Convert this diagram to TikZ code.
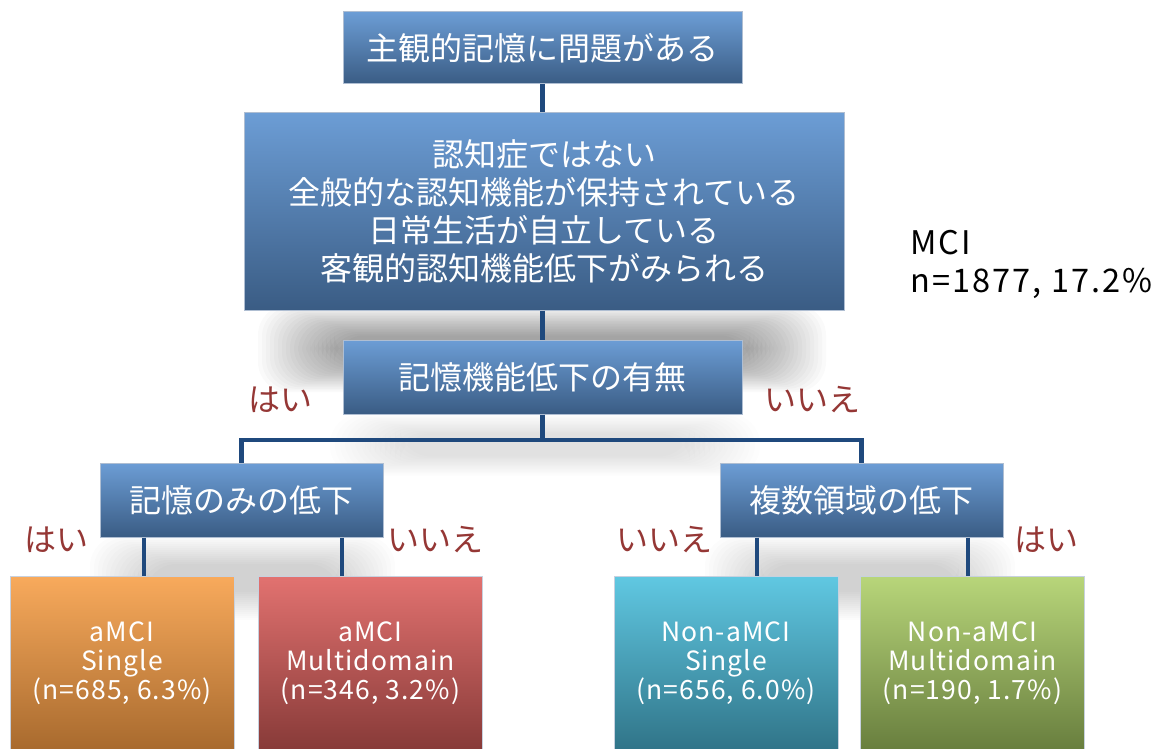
\documentclass[tikz,border=0pt]{standalone}
\usepackage{fontspec}
\setmainfont{Noto Sans CJK JP}
\newfontfamily\widefont[LetterSpace=4]{Noto Sans CJK JP}
\newfontfamily\mcifont[LetterSpace=6.5]{Noto Sans CJK JP}
\usetikzlibrary{positioning,calc}
\definecolor{bluetop}{RGB}{108,157,213}
\definecolor{bluebot}{RGB}{58,92,132}
\definecolor{boxedge}{RGB}{175,190,210}
\definecolor{connc}{RGB}{31,73,125}
\definecolor{labc}{RGB}{149,55,53}
\definecolor{ortop}{RGB}{248,170,92}
\definecolor{orbot}{RGB}{168,106,46}
\definecolor{rdtop}{RGB}{226,114,112}
\definecolor{rdbot}{RGB}{135,58,56}
\definecolor{cytop}{RGB}{96,200,226}
\definecolor{cybot}{RGB}{48,116,136}
\definecolor{grtop}{RGB}{184,214,122}
\definecolor{grbot}{RGB}{104,126,62}
\tikzset{
  bluebox/.style={draw=boxedge, line width=1pt, top color=bluetop, bottom color=bluebot,
    text=white, align=center, inner sep=0pt, font=\fontsize{32}{38}\selectfont},
  leafbox/.style={draw=boxedge!70!white, line width=1pt, text=white, align=center, inner sep=0pt,
    font=\widefont\fontsize{26.5}{29}\selectfont, minimum width=224, minimum height=174},
  conn/.style={draw=connc, line width=4.5pt},
  lab/.style={text=labc, font=\fontsize{32}{36}\selectfont, inner sep=0pt},
}
\newcommand{\softshadow}[8]{% x1 y1 x2 y2 dx dy n opacity
  \foreach \k in {0,...,#7}{
    \fill[black, opacity=#8, rounded corners=30pt]
      ({#1+\k*#5},{#2+\k*#6}) rectangle ({#3-\k*#5},{#4-\k*#6});
  }
}
\begin{document}
\begin{tikzpicture}[x=1pt,y=-1pt]
\useasboundingbox (0,0) rectangle (1167,749);
\fill[white] (0,0) rectangle (1167,749);
% soft shadows
\softshadow{258}{305}{826}{392}{4}{1.6}{19}{0.02}
\softshadow{330}{414}{760}{476}{5}{1.4}{14}{0.009}
\softshadow{90}{536}{395}{620}{4}{2}{14}{0.01}
\softshadow{705}{536}{1015}{620}{4}{2}{14}{0.01}
% boxes
\node[bluebox, minimum width=399, minimum height=72] (top) at (542.5,48) {主観的記憶に問題がある};
\node[bluebox, minimum width=600, minimum height=197] (big) at (544,211.5)
  {認知症ではない\\全般的な認知機能が保持されている\\日常生活が自立している\\客観的認知機能低下がみられる};
\node[bluebox, minimum width=399, minimum height=74] (mid) at (542.5,377) {記憶機能低下の有無};
\node[bluebox, minimum width=283, minimum height=74] (memonly) at (241.5,500) {記憶のみの低下};
\node[bluebox, minimum width=283, minimum height=74] (multi) at (861.5,500) {複数領域の低下};
\node[leafbox, top color=ortop, bottom color=orbot] (a1) at (122,663) {aMCI\\Single\\(n=685, 6.3\%)};
\node[leafbox, top color=rdtop, bottom color=rdbot] (a2) at (370.5,663) {aMCI\\Multidomain\\(n=346, 3.2\%)};
\node[leafbox, top color=cytop, bottom color=cybot] (n1) at (726,663) {Non-aMCI\\Single\\(n=656, 6.0\%)};
\node[leafbox, top color=grtop, bottom color=grbot] (n2) at (972.5,663) {Non-aMCI\\Multidomain\\(n=190, 1.7\%)};
% labels
\node[lab] (y0) at (280,400) {はい};
\node[lab] (n0) at (812,400) {いいえ};
\node[lab] (y1) at (56,540) {はい};
\node[lab] (n1l) at (435,540) {いいえ};
\node[lab] (n2l) at (664,540) {いいえ};
\node[lab] (y2) at (1046,540) {はい};
\node[anchor=west, align=left, inner sep=0pt, font=\mcifont\fontsize{32.5}{38}\selectfont] (mci) at (910,264) {MCI\\n=1877, 17.2\%};
% connectors
\coordinate (jM) at (542.5,440);
\coordinate (c1) at (144,0);
\coordinate (c2) at (342,0);
\coordinate (c3) at (757,0);
\coordinate (c4) at (968,0);
\draw[conn] (top.south) -- (top.south |- big.north);
\draw[conn] (mid.north |- big.south) -- (mid.north);
\draw[conn] (mid.south) -- (jM);
\draw[conn] (memonly.north) |- (jM) -| (multi.north);
\draw[conn] (memonly.south -| c1) -- (a1.north -| c1);
\draw[conn] (memonly.south -| c2) -- (a2.north -| c2);
\draw[conn] (multi.south -| c3) -- (n1.north -| c3);
\draw[conn] (multi.south -| c4) -- (n2.north -| c4);
\end{tikzpicture}
\end{document}
